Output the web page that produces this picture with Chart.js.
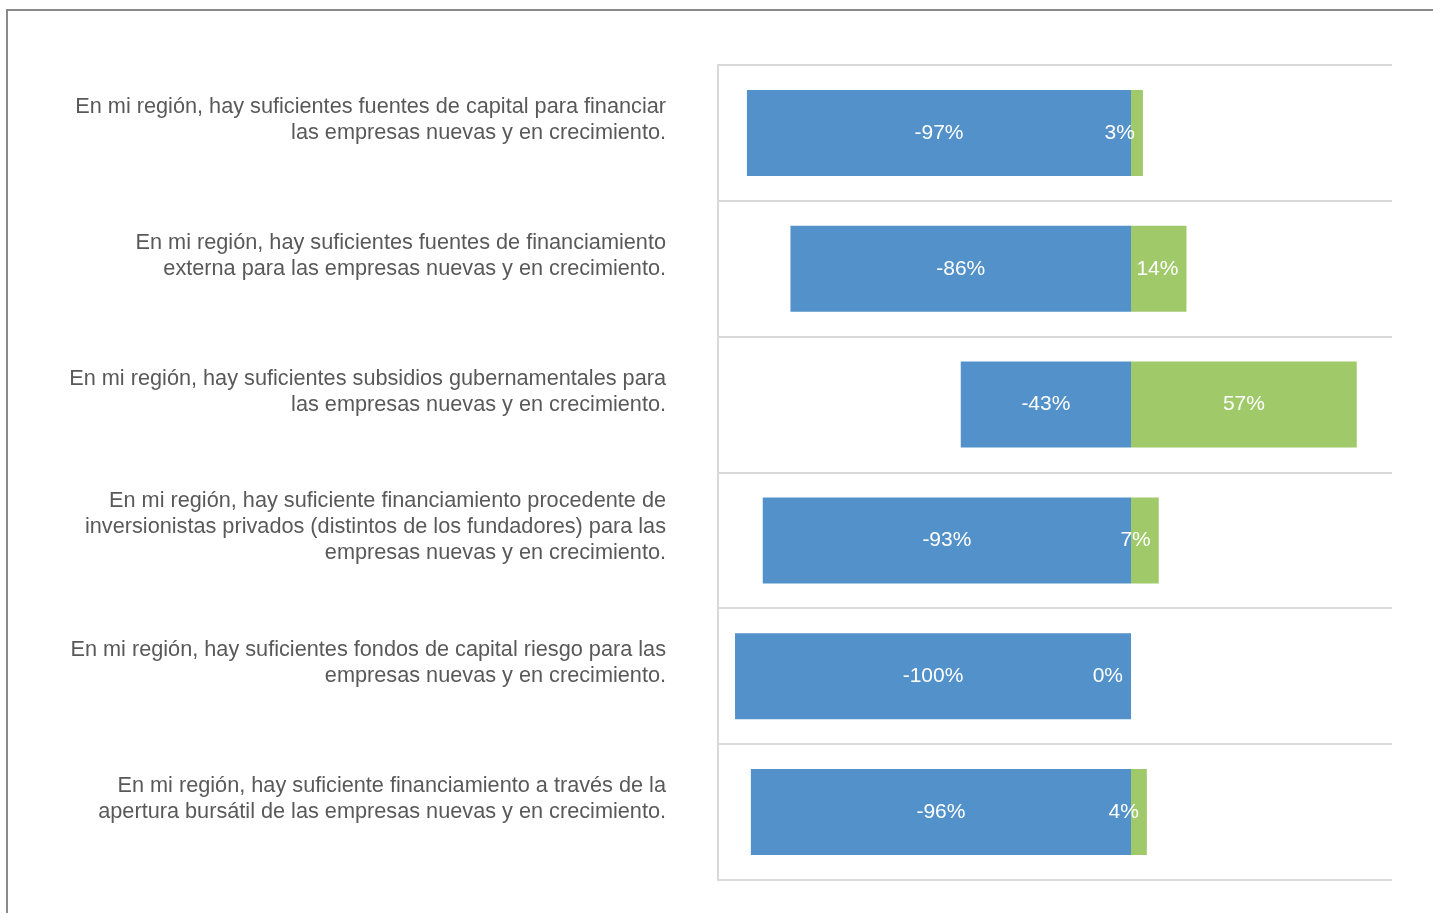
<!DOCTYPE html>
<html>
<head>
<meta charset="utf-8">
<title>Financiamiento para empresas nuevas y en crecimiento</title>
<script src="https://cdn.jsdelivr.net/npm/chart.js@4.4.1/dist/chart.umd.min.js"></script>
<style>
  html, body { margin: 0; padding: 0; background: #fff; overflow: hidden; }
  #frame {
    position: absolute; left: 6px; top: 9px; width: 1440px; height: 920px;
    border-top: 2px solid #8a8a8a; border-left: 2px solid #8a8a8a;
  }
  #wrap { position: absolute; left: 0; top: 0; width: 1433px; height: 913px; }
</style>
</head>
<body>
<div id="frame"></div>
<div id="wrap"><canvas id="chart" width="1433" height="913"></canvas></div>
<script>
// Survey statements (wrapped as they are shown)
const categories = [
  ['En mi región, hay suficientes fuentes de capital para financiar', 'las empresas nuevas y en crecimiento.'],
  ['En mi región, hay suficientes fuentes de financiamiento', 'externa para las empresas nuevas y en crecimiento.'],
  ['En mi región, hay suficientes subsidios gubernamentales para', 'las empresas nuevas y en crecimiento.'],
  ['En mi región, hay suficiente financiamiento procedente de', 'inversionistas privados (distintos de los fundadores) para las', 'empresas nuevas y en crecimiento.'],
  ['En mi región, hay suficientes fondos de capital riesgo para las', 'empresas nuevas y en crecimiento.'],
  ['En mi región, hay suficiente financiamiento a través de la', 'apertura bursátil de las empresas nuevas y en crecimiento.']
];

// Share of answers (%) – disagreement drawn to the left of zero, agreement to the right
const disagree = [-97, -86, -43, -93, -100, -96];
const agree = [3, 14, 57, 7, 0, 4];

const FONT = '"Liberation Sans", Arial, Helvetica, sans-serif';

// White percentage labels inside each segment; narrow segments get the label
// right-aligned near the segment's outer end instead of centred.
const segmentLabels = {
  id: 'segmentLabels',
  afterDatasetsDraw(chart) {
    const ctx = chart.ctx;
    const xScale = chart.scales.x;
    const zero = xScale.getPixelForValue(0);
    ctx.save();
    ctx.font = '21px ' + FONT;
    ctx.fillStyle = '#ffffff';
    ctx.textBaseline = 'middle';
    chart.data.datasets.forEach((ds, di) => {
      const meta = chart.getDatasetMeta(di);
      meta.data.forEach((bar, i) => {
        const v = ds.data[i];
        const text = v + '%';
        const w = ctx.measureText(text).width;
        let lo, hi;
        if (v === 0) {
          lo = hi = zero;
        } else {
          lo = Math.min(bar.x, bar.base);
          hi = Math.max(bar.x, bar.base);
        }
        if (hi - lo >= w + 16) {
          ctx.textAlign = 'center';
          ctx.fillText(text, (lo + hi) / 2, bar.y);
        } else {
          ctx.textAlign = 'right';
          ctx.fillText(text, hi - 8, bar.y);
        }
      });
    });
    ctx.restore();
  }
};

new Chart(document.getElementById('chart'), {
  type: 'bar',
  data: {
    labels: categories,
    datasets: [
      { label: 'En desacuerdo', data: disagree, backgroundColor: '#5291ca', borderWidth: 0,
        barPercentage: 0.633, categoryPercentage: 1 },
      { label: 'De acuerdo', data: agree, backgroundColor: '#a0c96a', borderWidth: 0,
        barPercentage: 0.633, categoryPercentage: 1 }
    ]
  },
  options: {
    indexAxis: 'y',
    responsive: false,
    animation: false,
    devicePixelRatio: 1,
    layout: { padding: { top: 65, bottom: 33, right: 41, left: 0 } },
    plugins: { legend: { display: false }, tooltip: { enabled: false } },
    scales: {
      x: { stacked: true, display: false, min: -104.3, max: 65.9 },
      y: {
        stacked: true,
        grid: { offset: true, color: '#d9d9d9', lineWidth: 2, drawTicks: false },
        border: { display: true, color: '#d9d9d9', width: 2 },
        ticks: {
          padding: 52,
          labelOffset: -13,
          color: '#595959',
          font: { family: FONT, size: 21.7, lineHeight: 1.2 }
        },
        afterFit(scale) {
          scale.width = 718;
          scale.paddingTop = 0;
          scale.paddingBottom = 0;
        }
      }
    }
  },
  plugins: [segmentLabels]
});
</script>
</body>
</html>
